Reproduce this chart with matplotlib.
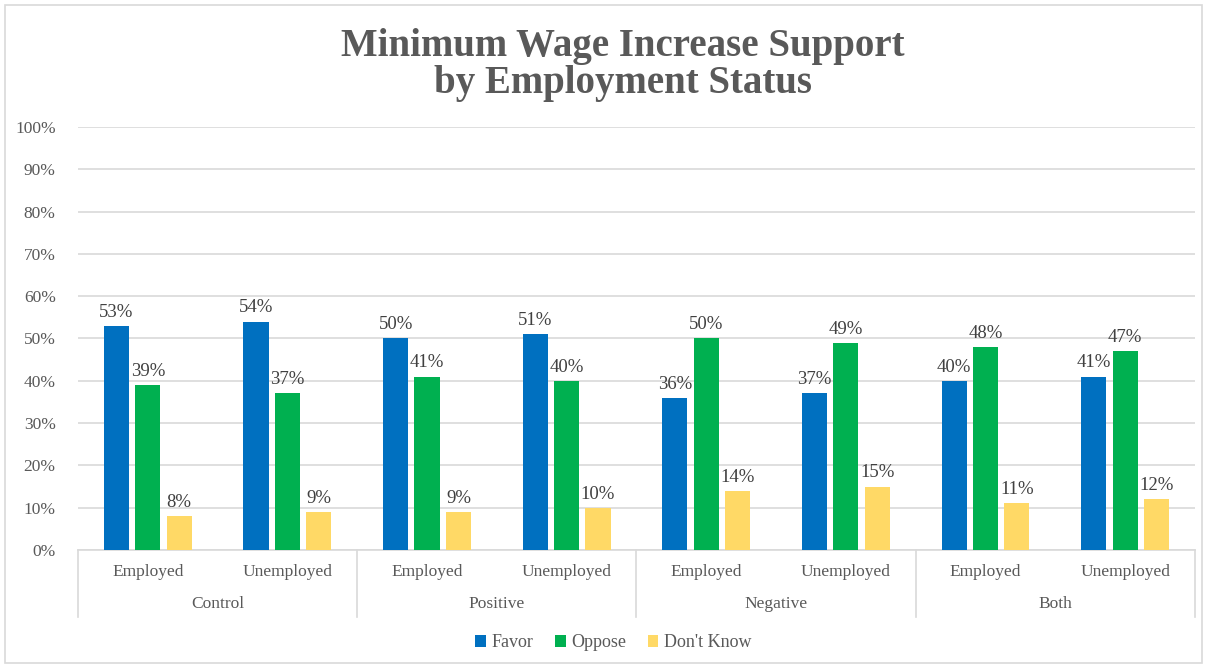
import matplotlib.pyplot as plt
import numpy as np
from matplotlib.patches import Rectangle
from matplotlib.transforms import blended_transform_factory

groups = ["Control", "Positive", "Negative", "Both"]
statuses = ["Employed", "Unemployed"]
series = ["Favor", "Oppose", "Don't Know"]
favor = [53, 54, 50, 51, 36, 37, 40, 41]
oppose = [39, 37, 41, 40, 50, 49, 48, 47]
dont_know = [8, 9, 9, 10, 14, 15, 11, 12]
colors = ["#0070C0", "#00B050", "#FFD966"]

plt.rcParams['font.family'] = ['Liberation Serif', 'DejaVu Serif']

fig = plt.figure(figsize=(12.07, 6.66), dpi=100)
fig.patches.append(Rectangle((0.004, 0.004), 0.992, 0.988, transform=fig.transFigure,
                             fill=False, edgecolor="#D9D9D9", linewidth=1.2))
ax = fig.add_axes([0.0646, 0.1742, 0.9254, 0.6351])

x = np.arange(len(favor))
width = 0.18
step = 0.225
for i, (vals, col, name) in enumerate(zip([favor, oppose, dont_know], colors, series)):
    pos = x + (i - 1) * step
    ax.bar(pos, vals, width, color=col, label=name, zorder=3)
    for px, v in zip(pos, vals):
        ax.text(px, v + 1.2, f"{v}%", ha="center", va="bottom", fontsize=13.5, color="#404040")

ax.set_xlim(-0.5, len(favor) - 0.5)
ax.set_ylim(0, 100)
ax.set_yticks(range(0, 101, 10))
ax.set_yticklabels([f"{t}%" for t in range(0, 101, 10)], fontsize=12.5, color="#595959")
ax.yaxis.grid(True, color="#D9D9D9", linewidth=1.2, zorder=0)
ax.tick_params(axis="y", length=0, pad=16)
ax.tick_params(axis="x", length=0)
ax.set_xticks([])
for s in ["top", "right", "left"]:
    ax.spines[s].set_visible(False)
ax.spines["bottom"].set_color("#D9D9D9")
ax.spines["bottom"].set_linewidth(1.2)

# two-level category axis
trans = blended_transform_factory(ax.transData, ax.transAxes)
for i in x:
    ax.text(i, -0.053, statuses[i % 2], ha="center", va="center", fontsize=12.5,
            color="#595959", transform=trans)
for g, name in enumerate(groups):
    ax.text(2 * g + 0.5, -0.127, name, ha="center", va="center", fontsize=12.5,
            color="#595959", transform=trans)
for b in np.arange(-0.5, len(favor), 2):
    ax.plot([b, b], [0, -0.158], color="#D9D9D9", linewidth=1.2, transform=trans, clip_on=False)

fig.text(0.516, 0.902, "Minimum Wage Increase Support\nby Employment Status", ha="center",
         va="center", fontsize=28, fontweight="bold", color="#595959", linespacing=1.0)

fig.legend(loc="center", bbox_to_anchor=(0.508, 0.035), ncol=3, frameon=False,
           fontsize=13, handlelength=0.6, handleheight=0.6, handletextpad=0.3,
           columnspacing=1.2, labelcolor="#595959")

fig.savefig("out.png", dpi=100)
